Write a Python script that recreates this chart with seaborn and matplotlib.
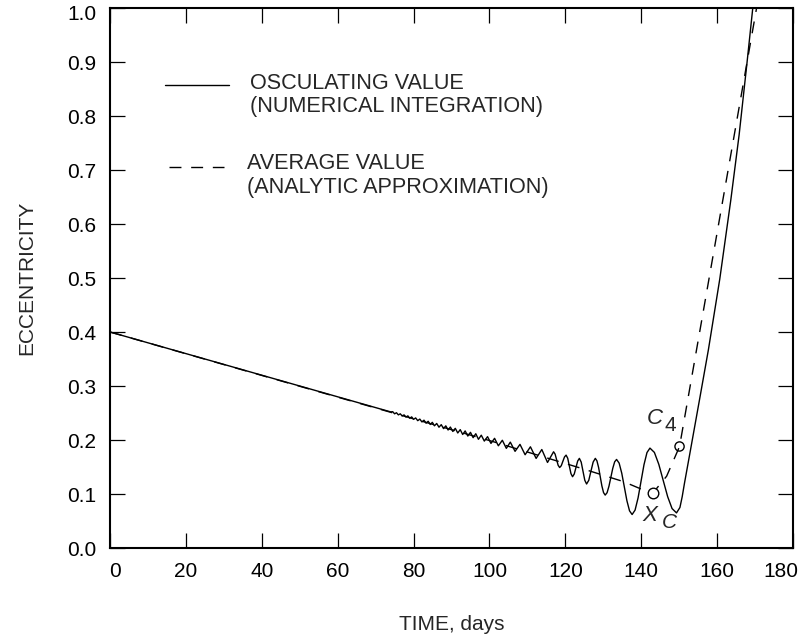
import numpy as np
import pandas as pd
import matplotlib
matplotlib.use("Agg")
import matplotlib.pyplot as plt
import seaborn as sns
from matplotlib.lines import Line2D
from matplotlib.transforms import ScaledTranslation

# ---------------- data ----------------
time_osc = [0.0, 74.0, 74.5, 75.0, 75.5, 76.0, 76.5, 77.0, 77.5, 78.0, 78.5, 79.0, 79.5,
            80.0, 80.55, 81.1, 81.65, 82.2, 82.75, 83.3, 83.85, 84.4, 84.95, 85.5, 86.1,
            86.7, 87.3, 87.9, 88.5, 89.1, 89.7, 90.35, 91.0, 91.65, 92.3, 92.95, 93.6,
            94.3, 95.0, 95.7, 96.4, 97.1, 97.85, 98.65, 99.5, 100.4, 101.35, 102.35,
            103.4, 104.45, 105.5, 106.75, 108.05, 109.4, 110.8, 112.3, 113.8, 115.3,
            116.9, 117.3, 117.7, 118.1, 118.5, 118.93, 119.35, 119.78, 120.2, 120.63,
            121.05, 121.48, 121.9, 122.35, 122.8, 123.25, 123.7, 124.18, 124.65, 125.13,
            125.6, 126.18, 126.75, 127.33, 127.9, 128.33, 128.77, 129.2, 129.63, 130.07,
            130.5, 131.0, 131.5, 132.0, 132.5, 133.0, 133.5, 134.18, 134.87, 135.55,
            136.23, 136.92, 137.6, 138.38, 139.17, 139.95, 140.73, 141.52, 142.3, 143.47,
            144.63, 145.8, 146.97, 148.13, 149.3, 150.2, 150.8, 151.4, 152.97, 155.5,
            157.7, 160.7, 163.6, 165.8, 167.9, 169.4, 169.8]
ecc_osc = [0.400, 0.2520, 0.2525, 0.2485, 0.2505, 0.2465, 0.2485, 0.2445, 0.2465, 0.2425,
           0.2447, 0.2403, 0.2428, 0.2382, 0.2409, 0.2358, 0.2387, 0.2335, 0.2367, 0.2311,
           0.2347, 0.2287, 0.2327, 0.2263, 0.2306, 0.2237, 0.2284, 0.2211, 0.2262, 0.2185,
           0.2240, 0.2158, 0.2216, 0.2130, 0.2192, 0.2102, 0.2168, 0.2073, 0.2142, 0.2043,
           0.2116, 0.2013, 0.2089, 0.1980, 0.2062, 0.1937, 0.2031, 0.1893, 0.1995, 0.1845,
           0.1960, 0.1790, 0.1919, 0.1727, 0.1874, 0.1659, 0.1824, 0.1584, 0.1782, 0.1739,
           0.1636, 0.1533, 0.1490, 0.1524, 0.1605, 0.1686, 0.1720, 0.1662, 0.1520, 0.1378,
           0.1320, 0.1370, 0.1490, 0.1610, 0.1660, 0.1591, 0.1423, 0.1254, 0.1185, 0.1254,
           0.1423, 0.1591, 0.1660, 0.1614, 0.1490, 0.1320, 0.1150, 0.1026, 0.0980, 0.1024,
           0.1145, 0.1310, 0.1475, 0.1596, 0.1640, 0.1572, 0.1385, 0.1130, 0.0875, 0.0688,
           0.0620, 0.0702, 0.0928, 0.1235, 0.1543, 0.1768, 0.1850, 0.1770, 0.1550, 0.1250,
           0.0950, 0.0730, 0.0650, 0.0750, 0.0950, 0.1200, 0.1810, 0.2800, 0.3670, 0.4980,
           0.6440, 0.7650, 0.9000, 1.0000, 1.0300]

time_avg = [0.0, 100.0, 124.0, 135.3, 139.7, 143.1, 146.7, 150.1, 171.0]
ecc_avg = [0.400, 0.199, 0.148, 0.123, 0.110, 0.102, 0.133, 0.188, 1.024]

xc_time = [143.1]
xc_ecc = [0.102]
c4_time = [150.1]
c4_ecc = [0.188]

x_ticks = [0, 20, 40, 60, 80, 100, 120, 140, 160, 180]
y_ticks = [0.0, 0.1, 0.2, 0.3, 0.4, 0.5, 0.6, 0.7, 0.8, 0.9, 1.0]

legend_solid = ["OSCULATING VALUE", "(NUMERICAL INTEGRATION)"]
legend_dashed = ["AVERAGE VALUE", "(ANALYTIC APPROXIMATION)"]

# ---------------- figure ----------------
sns.set_style("ticks")
plt.rcParams['font.family'] = ['Liberation Sans', 'DejaVu Sans']

W, H = 801, 642
fig = plt.figure(figsize=(W / 100, H / 100), dpi=100)
L, R, B, T = 110, 793, 548, 8
ax = fig.add_axes([L / W, 1 - B / H, (R - L) / W, (B - T) / H])

osc = pd.DataFrame({"time": time_osc, "ecc": ecc_osc})
avg = pd.DataFrame({"time": time_avg, "ecc": ecc_avg})
DASH = (0, (8.6, 7.0))

sns.lineplot(data=osc, x="time", y="ecc", sort=False, estimator=None,
             color="black", lw=1.0, ax=ax)
sns.lineplot(data=avg, x="time", y="ecc", sort=False, estimator=None,
             color="black", lw=1.0, linestyle=DASH, ax=ax)
sns.scatterplot(x=xc_time, y=xc_ecc, marker="o", s=58, facecolor="white",
                edgecolor="black", linewidth=1.0, zorder=5, ax=ax)
sns.scatterplot(x=c4_time, y=c4_ecc, marker="o", s=44, facecolor="none",
                edgecolor="black", linewidth=1.0, zorder=5, ax=ax)

# annotations
ax.text(143.5, 0.240, "C", style="italic", fontsize=16, ha="center", va="center")
ax.text(147.6, 0.226, "4", fontsize=15, ha="center", va="center")
ax.text(142.2, 0.060, "X", style="italic", fontsize=16, ha="center", va="center")
ax.text(147.3, 0.048, "C", style="italic", fontsize=15, ha="center", va="center")

# manual legend
ax.add_line(Line2D([0.0805, 0.1742], [0.8574, 0.8574], transform=ax.transAxes,
                   color="black", lw=1.0))
ax.add_line(Line2D([0.0864, 0.1669], [0.7056, 0.7056], transform=ax.transAxes,
                   color="black", lw=1.0, linestyle=DASH))
LFS = 15.6
ax.text(0.205, 0.8593, legend_solid[0], transform=ax.transAxes, fontsize=LFS, va="center")
ax.text(0.205, 0.8167, legend_solid[1], transform=ax.transAxes, fontsize=LFS, va="center")
ax.text(0.2006, 0.712, legend_dashed[0], transform=ax.transAxes, fontsize=LFS, va="center")
ax.text(0.2006, 0.6685, legend_dashed[1], transform=ax.transAxes, fontsize=LFS, va="center")

# axes
ax.set_xlim(0, 180)
ax.set_ylim(0, 1.0)
ax.set_xticks(x_ticks)
ax.set_xticklabels([str(v) for v in x_ticks])
ax.set_yticks(y_ticks)
ax.set_yticklabels([f"{v:.1f}" for v in y_ticks])
ax.tick_params(direction="in", length=10.8, width=0.9, top=True, right=True,
               labelsize=15, pad=10, colors="black")
for sp in ax.spines.values():
    sp.set_visible(True)
    sp.set_linewidth(1.5)
    sp.set_color("black")

ax.set_xlabel("TIME, days", fontsize=15)
ax.set_ylabel("ECCENTRICITY", fontsize=15)
ax.xaxis.label.set_va("center")
ax.yaxis.label.set_va("center")
ax.xaxis.set_label_coords(0.5, (B - 625) / (B - T))
ax.yaxis.set_label_coords((27 - L) / (R - L), 0.5)

xl = ax.get_xticklabels()
xl[0].set_transform(xl[0].get_transform() + ScaledTranslation(5 / 100, 0, fig.dpi_scale_trans))
xl[-1].set_transform(xl[-1].get_transform() + ScaledTranslation(-12 / 100, 0, fig.dpi_scale_trans))
yl = ax.get_yticklabels()
yl[-1].set_transform(yl[-1].get_transform() + ScaledTranslation(0, -5 / 100, fig.dpi_scale_trans))

fig.savefig("out.png", dpi=100)
